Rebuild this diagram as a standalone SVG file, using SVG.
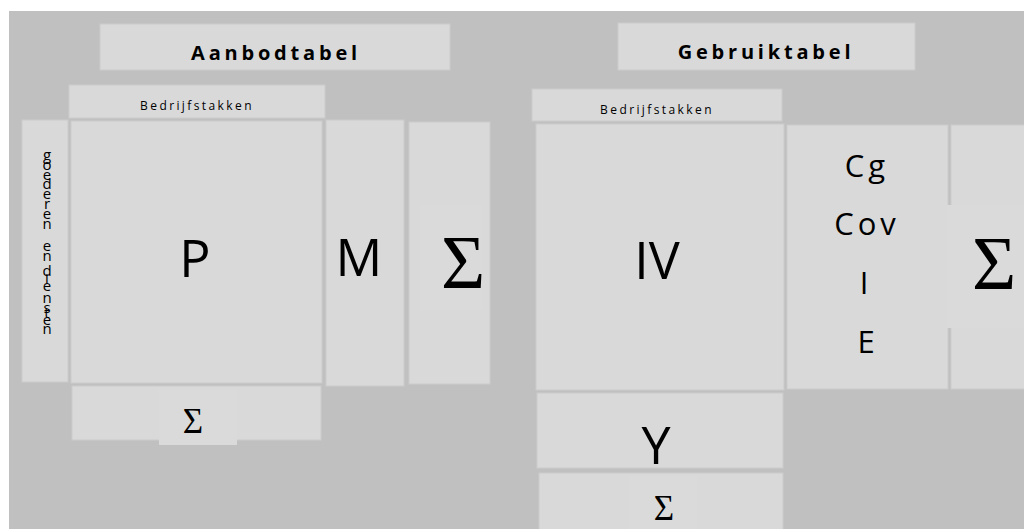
<svg xmlns="http://www.w3.org/2000/svg" width="1024" height="529" viewBox="0 0 1024 529">
<style>
.box{fill:#d9d9d9;stroke:#cbcbcb;stroke-width:1}
.inner{fill:#dadada;stroke:none}
.t{font-family:"Open Sans","Liberation Sans",sans-serif;fill:#000;text-anchor:middle}
.title{font-size:20px;font-weight:bold;letter-spacing:3.8px}
.sub{font-size:12px;letter-spacing:2.4px}
.big{font-size:52px}
.mid{font-size:31px;letter-spacing:4px}
.vert{font-size:15px}
.sig{font-family:"Liberation Serif","DejaVu Serif",serif;fill:#000;text-anchor:middle}
</style>
<rect x="0" y="0" width="1024" height="529" fill="#ffffff"/>
<rect x="9" y="11" width="1015" height="518" fill="#c0c0c0"/>
<g id="aanbod-title"><rect class="box" x="100" y="24" width="350" height="46"/><text class="t title" x="276" y="60">Aanbodtabel</text></g>
<g id="aanbod-bedrijfstakken"><rect class="box" x="69" y="85" width="256" height="33"/><text class="t sub" x="197" y="110">Bedrijfstakken</text></g>
<g id="aanbod-goederen"><rect class="box" x="22" y="120" width="46" height="262"/><text class="t vert" x="47 47 47 47 47 47 47 47 47 47 47 47 47 47 47 47 47 47 47 47" y="160 170 180 189 199 209 219 229 240 251 261 268 276 284 291 303 313 318 325 334">goederen en diensten</text></g>
<g id="aanbod-P"><rect class="box" x="71" y="121" width="251" height="262"/><text class="t big" x="195" y="277">P</text></g>
<g id="aanbod-M"><rect class="box" x="326" y="120" width="78" height="266"/><text class="t big" x="359" y="276">M</text></g>
<g id="aanbod-sum-right"><rect class="box" x="409" y="122" width="81" height="262"/><rect class="inner" x="420" y="205" width="62" height="105"/><text class="sig" x="463" y="288" style="font-size:76px">Σ</text></g>
<g id="aanbod-sum-bottom"><rect class="box" x="72" y="386" width="249" height="54"/><rect class="inner" x="159" y="390" width="78" height="55"/><text class="sig" x="193" y="433" style="font-size:35px">Σ</text></g>
<g id="gebruik-title"><rect class="box" x="618" y="23" width="297" height="47"/><text class="t title" x="766" y="59">Gebruiktabel</text></g>
<g id="gebruik-bedrijfstakken"><rect class="box" x="532" y="89" width="250" height="32"/><text class="t sub" x="657" y="114">Bedrijfstakken</text></g>
<g id="gebruik-IV"><rect class="box" x="536" y="124" width="248" height="266"/><text class="t big" x="657" y="279">IV</text></g>
<g id="gebruik-finaal"><rect class="box" x="787" y="125" width="161" height="264"/><text class="t mid" x="867" y="177">Cg</text><text class="t mid" x="867" y="235">Cov</text><text class="t mid" x="866" y="294">I</text><text class="t mid" x="868" y="353">E</text></g>
<g id="gebruik-sum-right"><rect class="box" x="951" y="125" width="80" height="264"/><rect class="inner" x="947" y="205" width="77" height="123"/><text class="sig" x="994" y="289" style="font-size:76px">Σ</text></g>
<g id="gebruik-Y"><rect class="box" x="537" y="393" width="246" height="75"/><text class="t big" x="656" y="464">Y</text></g>
<g id="gebruik-sum-bottom"><rect class="box" x="539" y="473" width="244" height="60"/><rect class="inner" x="629" y="476" width="68" height="53"/><text class="sig" x="664" y="520" style="font-size:35px">Σ</text></g>
<g id="connectors"></g>
</svg>
